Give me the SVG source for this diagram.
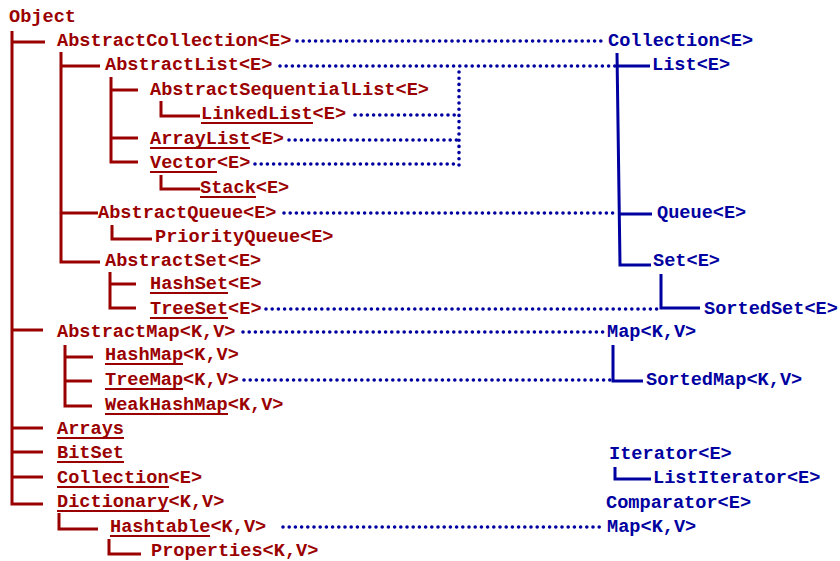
<svg xmlns="http://www.w3.org/2000/svg" width="840" height="561" viewBox="0 0 840 561">
<style>
text{font-family:"Liberation Mono","Courier New",monospace;font-weight:bold;font-size:18.6px}
.r{fill:#9a0000}
.b{fill:#0000a0}
.tr{stroke:#9a0000;stroke-width:3;fill:none}
.tb{stroke:#0000a0;stroke-width:3;fill:none}
.ul{stroke:#9a0000;stroke-width:2;fill:none}
.dot{stroke:#0000a0;stroke-width:3.6;fill:none;stroke-linecap:round;stroke-dasharray:0 6.2}
</style>
<rect width="840" height="561" fill="#fff"/>
<g id="connectors">
<g id="tree-red">
<polyline class="tr" points="12,31 12,504 43,504"/>
<line class="tr" x1="12" y1="42" x2="45" y2="42"/>
<line class="tr" x1="12" y1="330" x2="43" y2="330"/>
<line class="tr" x1="12" y1="428" x2="43" y2="428"/>
<line class="tr" x1="12" y1="452" x2="43" y2="452"/>
<line class="tr" x1="12" y1="477" x2="43" y2="477"/>
<polyline class="tr" points="61,52 61,262 100,262"/>
<line class="tr" x1="61" y1="66" x2="100" y2="66"/>
<line class="tr" x1="61" y1="213" x2="98" y2="213"/>
<polyline class="tr" points="111,77 111,162 138,162"/>
<line class="tr" x1="111" y1="90" x2="138" y2="90"/>
<line class="tr" x1="111" y1="138" x2="138" y2="138"/>
<polyline class="tr" points="161,101 161,116 200,116"/>
<polyline class="tr" points="161,175 161,189 200,189"/>
<polyline class="tr" points="112,225 112,239 152,239"/>
<polyline class="tr" points="110,272 110,308 136,308"/>
<line class="tr" x1="110" y1="284" x2="136" y2="284"/>
<polyline class="tr" points="65,345 65,406 92,406"/>
<line class="tr" x1="65" y1="357" x2="93" y2="357"/>
<line class="tr" x1="65" y1="381" x2="92" y2="381"/>
<polyline class="tr" points="59,513 59,529 98,529"/>
<polyline class="tr" points="109,539 109,554 141,554"/>
</g>
<g id="tree-blue">
<polyline class="tb" points="617,53 620,265 651,265"/>
<line class="tb" x1="617" y1="66" x2="650" y2="66"/>
<line class="tb" x1="619" y1="214" x2="652" y2="214"/>
<polyline class="tb" points="661,274 661,308 700,308"/>
<polyline class="tb" points="613,345 613,381 643,381"/>
<polyline class="tb" points="615,467 615,479 651,479"/>
</g>
<g id="implements">
<line class="dot" x1="297" y1="41" x2="603" y2="41"/>
<line class="dot" x1="280" y1="66" x2="616" y2="66"/>
<line class="dot" x1="459" y1="72" x2="459" y2="165"/>
<line class="dot" x1="355" y1="115" x2="457" y2="115"/>
<line class="dot" x1="289" y1="140" x2="457" y2="140"/>
<line class="dot" x1="255" y1="164" x2="457" y2="164"/>
<line class="dot" x1="284" y1="213" x2="614" y2="213"/>
<line class="dot" x1="266" y1="309" x2="659" y2="309"/>
<line class="dot" x1="243" y1="332" x2="603" y2="332"/>
<line class="dot" x1="244" y1="380" x2="612" y2="380"/>
<line class="dot" x1="283" y1="527" x2="603" y2="527"/>
</g>
</g>
<g id="n-Object"><text class="r" x="9" y="22">Object</text></g>
<g id="n-AbstractCollection"><text class="r" x="57" y="46">AbstractCollection&lt;E&gt;</text></g>
<g id="n-AbstractList"><text class="r" x="105" y="70">AbstractList&lt;E&gt;</text></g>
<g id="n-AbstractSequentialList"><text class="r" x="150" y="95">AbstractSequentialList&lt;E&gt;</text></g>
<g id="n-LinkedList"><text class="r" x="201" y="119">LinkedList&lt;E&gt;</text><line class="ul" x1="201" y1="123" x2="313" y2="123"/></g>
<g id="n-ArrayList"><text class="r" x="150" y="144">ArrayList&lt;E&gt;</text><line class="ul" x1="150" y1="148" x2="250" y2="148"/></g>
<g id="n-Vector"><text class="r" x="150" y="168">Vector&lt;E&gt;</text><line class="ul" x1="150" y1="172" x2="217" y2="172"/></g>
<g id="n-Stack"><text class="r" x="200" y="193">Stack&lt;E&gt;</text><line class="ul" x1="200" y1="197" x2="256" y2="197"/></g>
<g id="n-AbstractQueue"><text class="r" x="98" y="218">AbstractQueue&lt;E&gt;</text></g>
<g id="n-PriorityQueue"><text class="r" x="155" y="242">PriorityQueue&lt;E&gt;</text></g>
<g id="n-AbstractSet"><text class="r" x="105" y="266">AbstractSet&lt;E&gt;</text></g>
<g id="n-HashSet"><text class="r" x="150" y="289">HashSet&lt;E&gt;</text><line class="ul" x1="150" y1="293" x2="228" y2="293"/></g>
<g id="n-TreeSet"><text class="r" x="150" y="314">TreeSet&lt;E&gt;</text><line class="ul" x1="150" y1="318" x2="228" y2="318"/></g>
<g id="n-AbstractMap"><text class="r" x="57" y="337">AbstractMap&lt;K,V&gt;</text></g>
<g id="n-HashMap"><text class="r" x="105" y="360">HashMap&lt;K,V&gt;</text><line class="ul" x1="105" y1="364" x2="183" y2="364"/></g>
<g id="n-TreeMap"><text class="r" x="105" y="385">TreeMap&lt;K,V&gt;</text><line class="ul" x1="105" y1="389" x2="183" y2="389"/></g>
<g id="n-WeakHashMap"><text class="r" x="105" y="410">WeakHashMap&lt;K,V&gt;</text><line class="ul" x1="105" y1="414" x2="228" y2="414"/></g>
<g id="n-Arrays"><text class="r" x="57" y="434">Arrays</text><line class="ul" x1="57" y1="438" x2="124" y2="438"/></g>
<g id="n-BitSet"><text class="r" x="57" y="458">BitSet</text><line class="ul" x1="57" y1="462" x2="124" y2="462"/></g>
<g id="n-CollectionE"><text class="r" x="57" y="483">Collection&lt;E&gt;</text><line class="ul" x1="57" y1="487" x2="169" y2="487"/></g>
<g id="n-Dictionary"><text class="r" x="57" y="507">Dictionary&lt;K,V&gt;</text><line class="ul" x1="57" y1="511" x2="169" y2="511"/></g>
<g id="n-Hashtable"><text class="r" x="110" y="532">Hashtable&lt;K,V&gt;</text><line class="ul" x1="110" y1="536" x2="210" y2="536"/></g>
<g id="n-Properties"><text class="r" x="151" y="556">Properties&lt;K,V&gt;</text></g>
<g id="i-Collection"><text class="b" x="608" y="46">Collection&lt;E&gt;</text></g>
<g id="i-List"><text class="b" x="652" y="70">List&lt;E&gt;</text></g>
<g id="i-Queue"><text class="b" x="657" y="218">Queue&lt;E&gt;</text></g>
<g id="i-Set"><text class="b" x="653" y="266">Set&lt;E&gt;</text></g>
<g id="i-SortedSet"><text class="b" x="704" y="314">SortedSet&lt;E&gt;</text></g>
<g id="i-Map"><text class="b" x="607" y="337">Map&lt;K,V&gt;</text></g>
<g id="i-SortedMap"><text class="b" x="646" y="385">SortedMap&lt;K,V&gt;</text></g>
<g id="i-Iterator"><text class="b" x="609" y="459">Iterator&lt;E&gt;</text></g>
<g id="i-ListIterator"><text class="b" x="653" y="483">ListIterator&lt;E&gt;</text></g>
<g id="i-Comparator"><text class="b" x="606" y="508">Comparator&lt;E&gt;</text></g>
<g id="i-Map2"><text class="b" x="607" y="532">Map&lt;K,V&gt;</text></g>
</svg>
